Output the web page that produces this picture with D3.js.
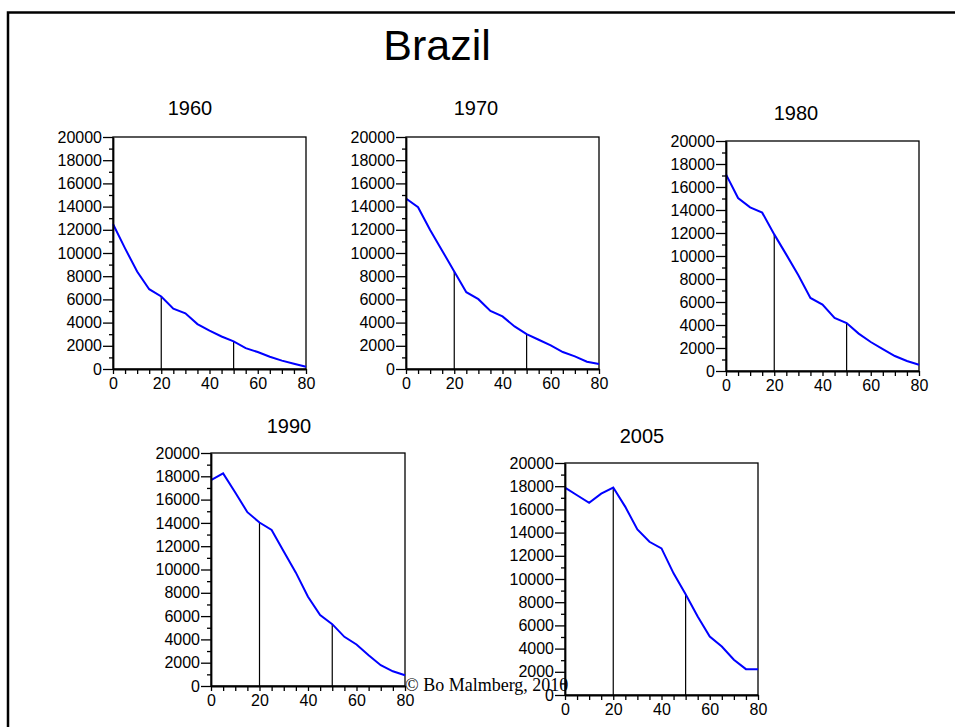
<!DOCTYPE html>
<html>
<head>
<meta charset="utf-8">
<script src="https://cdn.jsdelivr.net/npm/d3@7/dist/d3.min.js"></script>
<style>
  html, body { margin: 0; padding: 0; background: #fff; }
  svg { display: block; }
</style>
</head>
<body>
<svg id="chart" width="955" height="727"></svg>
<script>
// ---------- DATA ----------
const title = "Brazil";
const credit = "\u00A9 Bo Malmberg, 2010";
const ages = [0, 5, 10, 15, 20, 25, 30, 35, 40, 45, 50, 55, 60, 65, 70, 75, 80];
const panelYears = ["1960", "1970", "1980", "1990", "2005"];
const pop1960 = [12500, 10400, 8400, 6880, 6250, 5200, 4800, 3870, 3300, 2800, 2380, 1800, 1460, 1060, 720, 460, 200];
const pop1970 = [14700, 13950, 11980, 10200, 8400, 6620, 6020, 5010, 4530, 3670, 3010, 2520, 2030, 1460, 1090, 630, 430];
const pop1980 = [17100, 15040, 14230, 13770, 11880, 10120, 8320, 6350, 5770, 4610, 4170, 3250, 2520, 1910, 1300, 870, 550];
const pop1990 = [17680, 18250, 16610, 14920, 14030, 13400, 11540, 9730, 7660, 6080, 5310, 4220, 3560, 2640, 1780, 1260, 920];
const pop2005 = [17880, 17220, 16560, 17360, 17880, 16220, 14270, 13210, 12640, 10490, 8680, 6760, 5040, 4180, 3040, 2230, 2230];
const seriesList = [pop1960, pop1970, pop1980, pop1990, pop2005];
const yTicks = [0, 2000, 4000, 6000, 8000, 10000, 12000, 14000, 16000, 18000, 20000];
const yMinorTicks = [1000, 3000, 5000, 7000, 9000, 11000, 13000, 15000, 17000, 19000];
const xTicks = [0, 5, 10, 15, 20, 25, 30, 35, 40, 45, 50, 55, 60, 65, 70, 75, 80];
const xLabelStep = 20;
const markerAges = [20, 50];

// ---------- LAYOUT ----------
const layout = [
  { x0: 113, x1: 306, y0: 137, y1: 369, tx: 190, ty: 115 },
  { x0: 406, x1: 599, y0: 137, y1: 369, tx: 476, ty: 115 },
  { x0: 726, x1: 919, y0: 141, y1: 371, tx: 796, ty: 120 },
  { x0: 211, x1: 405, y0: 453, y1: 686, tx: 289, ty: 433 },
  { x0: 565, x1: 758, y0: 463, y1: 695, tx: 642, ty: 443 }
];

const svg = d3.select("#chart");
const sans = "'Liberation Sans', Arial, Helvetica, sans-serif";

// slide frame (left and top edges)
svg.append("path")
  .attr("d", "M8,727 L8,12.5 L955,12.5")
  .attr("fill", "none").attr("stroke", "#000").attr("stroke-width", 2.5);

// main title
svg.append("text")
  .attr("x", 437).attr("y", 60)
  .attr("text-anchor", "middle")
  .style("font-family", sans).style("font-size", "43px")
  .text(title);

panelYears.forEach((yr, i) => {
  const L = layout[i];
  const data = seriesList[i];
  const x = d3.scaleLinear().domain([0, 80]).range([L.x0, L.x1]);
  const y = d3.scaleLinear().domain([0, 20000]).range([L.y1, L.y0]);
  const g = svg.append("g");

  // panel title
  g.append("text")
    .attr("x", L.tx).attr("y", L.ty)
    .attr("text-anchor", "middle")
    .style("font-family", sans).style("font-size", "20px")
    .text(yr);

  // frame box
  g.append("rect")
    .attr("x", L.x0).attr("y", L.y0)
    .attr("width", L.x1 - L.x0).attr("height", L.y1 - L.y0)
    .attr("fill", "none").attr("stroke", "#000").attr("stroke-width", 1.3);

  // marker lines
  markerAges.forEach(a => {
    const v = data[ages.indexOf(a)];
    g.append("line")
      .attr("x1", x(a)).attr("x2", x(a))
      .attr("y1", y(0)).attr("y2", y(v))
      .attr("stroke", "#000").attr("stroke-width", 1.2);
  });

  // series line
  const line = d3.line().x((d, j) => x(ages[j])).y(d => y(d));
  g.append("path")
    .datum(data)
    .attr("d", line)
    .attr("fill", "none")
    .attr("stroke", "#0000ff")
    .attr("stroke-width", 2);

  // y axis minor ticks
  g.append("g")
    .attr("transform", `translate(${L.x0},0)`)
    .call(d3.axisLeft(y).tickValues(yMinorTicks).tickSize(4).tickFormat(""))
    .call(s => s.select(".domain").remove())
    .selectAll("line").attr("stroke-width", 1.3);

  // y axis major
  const ya = g.append("g")
    .attr("transform", `translate(${L.x0},0)`)
    .call(d3.axisLeft(y).tickValues(yTicks).tickSize(10).tickPadding(1).tickSizeOuter(0)
      .tickFormat(d3.format("d")));
  ya.select(".domain").attr("stroke-width", 1.8);
  ya.selectAll("line").attr("stroke-width", 1.3);
  ya.selectAll("text").style("font-family", sans).style("font-size", "16px").attr("fill", "#000");

  // x axis
  const xa = g.append("g")
    .attr("transform", `translate(0,${L.y1})`)
    .call(d3.axisBottom(x).tickValues(xTicks).tickSize(5).tickPadding(4).tickSizeOuter(0)
      .tickFormat(d => d % xLabelStep === 0 ? d : ""));
  xa.select(".domain").attr("stroke-width", 1.8);
  xa.selectAll("line").attr("stroke-width", 1.3);
  xa.selectAll("text").style("font-family", sans).style("font-size", "16px").attr("fill", "#000");
});

// credit
svg.append("text")
  .attr("x", 405).attr("y", 691)
  .style("font-family", "'Liberation Serif', 'Times New Roman', serif")
  .style("font-size", "18px")
  .text(credit);
</script>
</body>
</html>
